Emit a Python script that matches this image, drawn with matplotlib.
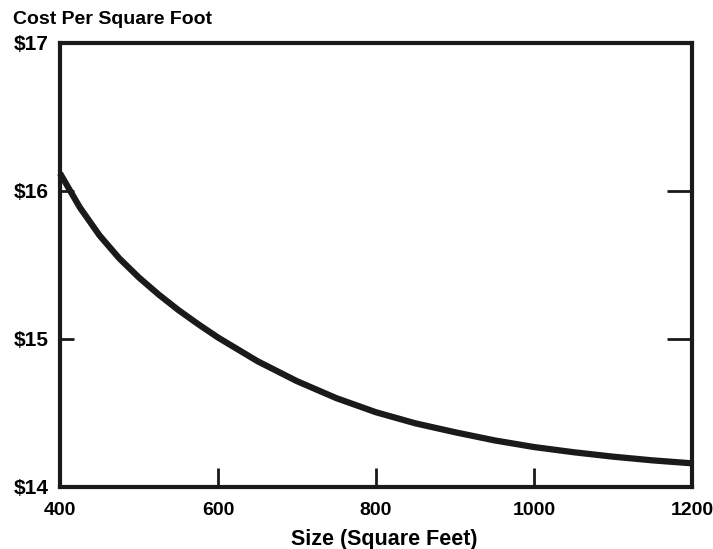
import matplotlib
matplotlib.use("Agg")
import matplotlib.pyplot as plt

size_sqft = [400, 425, 450, 475, 500, 525, 550, 575, 600, 650, 700, 750, 800, 850,
             900, 950, 1000, 1050, 1100, 1150, 1200]
cost_per_sqft = [16.12, 15.89, 15.70, 15.545, 15.415, 15.30, 15.195, 15.10, 15.01, 14.85,
                 14.715, 14.60, 14.505, 14.43, 14.37, 14.315, 14.27, 14.235, 14.205,
                 14.18, 14.16]
x_ticks = [400, 600, 800, 1000, 1200]
x_tick_labels = ["400", "600", "800", "1000", "1200"]
y_ticks = [14, 15, 16, 17]
y_tick_labels = ["$14", "$15", "$16", "$17"]

plt.rcParams['font.family'] = ['Liberation Sans', 'DejaVu Sans']
plt.rcParams['font.weight'] = 'bold'

fig = plt.figure(figsize=(7.13, 5.49), dpi=100)
ax = fig.add_axes([60/713, 62/549, 632/713, 444/549])

ax.plot(size_sqft, cost_per_sqft, color='#1a1a1a', lw=4.5, solid_capstyle='butt',
        solid_joinstyle='round', clip_on=False, zorder=3)

ax.set_xlim(400, 1200)
ax.set_ylim(14, 17)
ax.set_xticks(x_ticks)
ax.set_xticklabels(x_tick_labels)
ax.set_yticks(y_ticks)
ax.set_yticklabels(y_tick_labels)

for s in ax.spines.values():
    s.set_linewidth(3)
    s.set_color('#1a1a1a')

ax.tick_params(axis='x', direction='in', length=14, width=2, color='#1a1a1a',
               labelsize=14, pad=11)
ax.tick_params(axis='y', direction='in', length=10, width=2, color='#1a1a1a',
               labelsize=15, pad=8, right=True)

# hide tick marks at the corners (keep labels)
for t in ax.xaxis.get_major_ticks():
    if t.get_loc() in (400, 1200):
        t.tick1line.set_visible(False)
        t.tick2line.set_visible(False)
for t in ax.yaxis.get_major_ticks():
    if t.get_loc() in (14, 17):
        t.tick1line.set_visible(False)
        t.tick2line.set_visible(False)
    else:
        t.tick2line.set_markersize(18)

ax.set_xlabel("Size (Square Feet)", fontsize=15.5, fontweight='bold', labelpad=6)
ax.xaxis.set_label_coords((384 - 60) / 632, -0.095)
fig.text(13/713, 1 - 20/549, "Cost Per Square Foot", fontsize=14, fontweight='bold',
         ha='left', va='center')

fig.savefig("out.png", dpi=100)
